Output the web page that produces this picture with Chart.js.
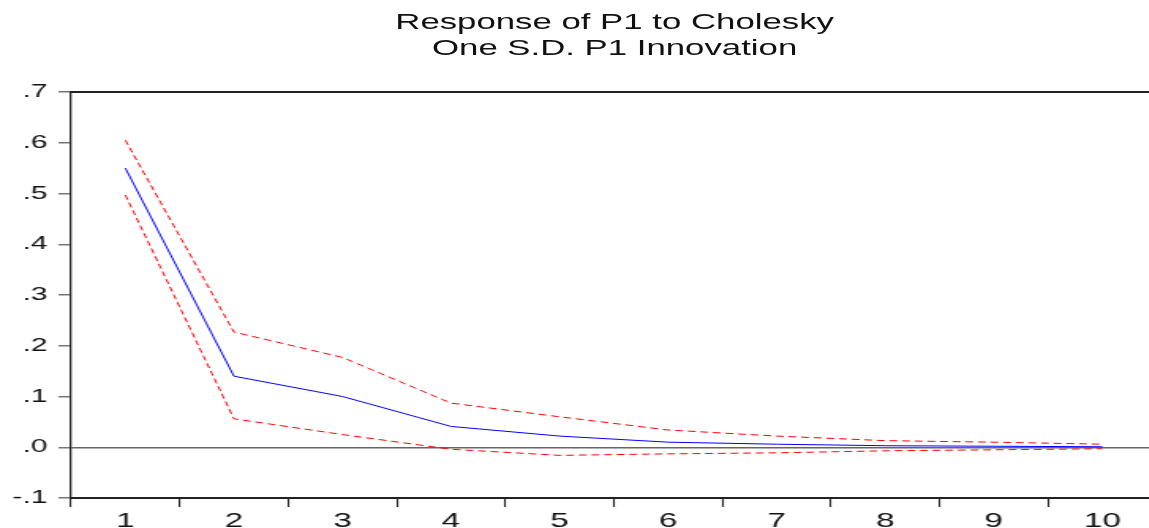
<!DOCTYPE html>
<html>
<head>
<meta charset="utf-8">
<script src="https://cdn.jsdelivr.net/npm/chart.js@4"></script>
<style>
  html, body { margin: 0; padding: 0; background: #fff; overflow: hidden; }
  /* the original graph is horizontally stretched, so the whole thing is drawn narrow and widened */
  #wrap {
    position: relative; width: 736px; height: 528px;
    transform: scaleX(1.58); transform-origin: 0 0;
  }
  #title {
    position: absolute; left: 189px; width: 400px; top: 9px;
    text-align: center; font: 22px "Liberation Sans", Arial, sans-serif;
    line-height: 26px; color: #111;
  }
</style>
</head>
<body>
<div id="wrap">
  <canvas id="irf" width="736" height="528"></canvas>
  <div id="title">Response of P1 to Cholesky<br>One S.D. P1 Innovation</div>
</div>
<script>
// periods and impulse response values
var periods = ["1", "2", "3", "4", "5", "6", "7", "8", "9", "10"];
var response = [0.550, 0.140, 0.100, 0.041, 0.022, 0.010, 0.006, 0.003, 0.002, 0.001];
var upperBand = [0.605, 0.227, 0.177, 0.087, 0.060, 0.034, 0.022, 0.013, 0.010, 0.006];
var lowerBand = [0.497, 0.056, 0.025, -0.004, -0.016, -0.013, -0.011, -0.007, -0.005, -0.003];

var font = "'Liberation Sans', Arial, sans-serif";

// frame line on top of the plot area
var framePlugin = {
  id: "frame",
  afterDraw: function (chart) {
    var c = chart.ctx, a = chart.chartArea;
    c.save();
    c.strokeStyle = "#222";
    c.lineWidth = 2;
    c.beginPath();
    c.moveTo(a.left, a.top);
    c.lineTo(a.right + 10, a.top);
    c.stroke();
    c.restore();
  }
};

var ctx = document.getElementById("irf").getContext("2d");
var irfChart = new Chart(ctx, {
  type: "line",
  data: {
    labels: periods,
    datasets: [
      {
        label: "Response",
        data: response,
        borderColor: "#0000ff",
        borderWidth: 1,
        pointRadius: 0,
        tension: 0,
      },
      {
        label: "+2 S.E.",
        data: upperBand,
        borderColor: "#ff0000",
        borderWidth: 1,
        borderDash: [5, 3],
        pointRadius: 0,
        tension: 0,
      },
      {
        label: "-2 S.E.",
        data: lowerBand,
        borderColor: "#ff0000",
        borderWidth: 1,
        borderDash: [5, 3],
        pointRadius: 0,
        tension: 0,
      },
    ],
  },
  options: {
    responsive: false,
    animation: false,
    layout: { padding: { top: 92, right: 4, left: 0, bottom: 0 } },
    plugins: {
      legend: { display: false },
      tooltip: { enabled: false },
    },
    scales: {
      x: {
        offset: true,
        grid: {
          offset: true,
          drawOnChartArea: false,
          tickLength: 9,
          tickColor: "#222",
          lineWidth: 1.1,
        },
        border: { color: "#222", width: 2 },
        ticks: {
          color: "#111",
          font: { family: font, size: 21 },
          padding: 2,
          maxRotation: 0,
        },
        afterFit: function (scale) { scale.height = 30; },
      },
      y: {
        min: -0.1,
        max: 0.7,
        grid: {
          color: function (c) {
            return c.tick && Math.abs(c.tick.value) < 1e-9 ? "#666" : "rgba(0,0,0,0)";
          },
          lineWidth: 1.5,
          tickLength: 8,
          tickColor: "#777",
        },
        border: { color: "#222", width: 1.3 },
        ticks: {
          stepSize: 0.1,
          color: "#111",
          font: { family: font, size: 19 },
          padding: 7,
          callback: function (v) {
            if (Math.abs(v) < 1e-9) return ".0";
            return v.toFixed(1).replace("0.", ".");
          },
        },
        afterFit: function (scale) { scale.width = 45; },
      },
    },
  },
  plugins: [framePlugin],
});
</script>
</body>
</html>
